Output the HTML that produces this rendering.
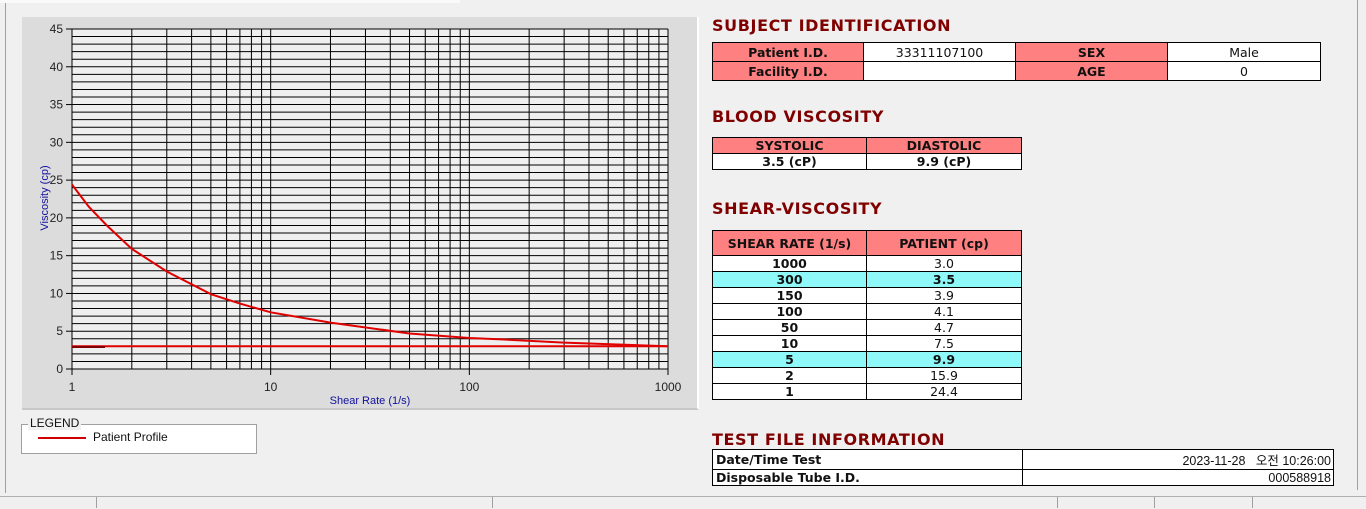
<!DOCTYPE html>
<html><head><meta charset="utf-8"><style>
body{margin:0;width:1366px;height:508px;background:#f0f0f0;position:relative;overflow:hidden;font-family:"Liberation Sans",sans-serif}
.abs{position:absolute}
h2{position:absolute;margin:0;font:bold 16px "DejaVu Sans","Liberation Sans",sans-serif;color:#800000;letter-spacing:0.6px}
table{position:absolute;border-collapse:collapse;font:12.5px "DejaVu Sans","Liberation Sans",sans-serif;table-layout:fixed}
td{border:1px solid #000;padding:0;text-align:center;background:#fff;color:#111;white-space:nowrap;overflow:hidden}
td.h{background:#ff8080;font-weight:bold}
tr.c td{background:#8ff8f8;font-weight:bold}
.b{font-weight:bold}
</style></head><body>
<div class="abs" style="left:0;top:0;width:460px;height:3px;background:#fafafa"></div>
<div class="abs" style="left:5px;top:3px;width:1px;height:490px;background:#a0a0a0"></div>
<div class="abs" style="left:22px;top:17px;width:675px;height:391px;background:#dcdcdc;border-right:2px solid #fff;border-bottom:2px solid #c8c8c8"></div>
<svg class="abs" style="left:0;top:0" width="700" height="420" font-family="Liberation Sans, sans-serif">
<rect x="72" y="29" width="596" height="340" fill="#efefef"/>
<g stroke="#000" stroke-width="1" id="g"></g>
<g id="lab" font-size="12" fill="#222"></g>
<text x="370" y="404" font-size="11" fill="#1010a0" text-anchor="middle">Shear Rate (1/s)</text>
<text transform="translate(48,198) rotate(-90)" font-size="11" fill="#1010a0" text-anchor="middle">Viscosity (cp)</text>
<polyline fill="none" stroke="#e00000" stroke-width="2" points="72,184.6 89,207 107,225.6 131.8,248.9 166.8,271.5 210.9,294.2 239.9,303.6 270.7,312.3 330.5,322.6 409.5,333.5 469.3,338 504.3,339.5 564.1,342.6 668,346.3"/>
<line x1="72" y1="346.3" x2="668" y2="346.3" stroke="#e00000" stroke-width="2"/>
<line x1="72" y1="347" x2="105" y2="347" stroke="#800000" stroke-width="2"/>
</svg>
<script>
(function(){var g=document.getElementById('g'),l=document.getElementById('lab'),s='';
for(var v=0;v<=45;v++){var y=369-v*340/45;s+='<line x1="72" x2="668" y1="'+y+'" y2="'+y+'"/>';}
for(var d=0;d<3;d++)for(var k=1;k<=10;k++){if(k==10&&d<2)continue;var x=72+198.67*(d+Math.log10(k));s+='<line y1="29" y2="369" x1="'+x+'" x2="'+x+'"/>';}
var t='';for(var v=0;v<=45;v+=5){var y=369-v*340/45;s+='<line x1="66" x2="72" y1="'+y+'" y2="'+y+'"/>';t+='<text x="63" y="'+(y+4)+'" text-anchor="end">'+v+'</text>';}
[1,10,100,1000].forEach(function(n,i){var x=72+198.67*i;s+='<line y1="369" y2="375" x1="'+x+'" x2="'+x+'"/>';t+='<text x="'+x+'" y="391" text-anchor="middle">'+n+'</text>';});
g.innerHTML=s;l.innerHTML=t;})();
</script>
<div class="abs" style="left:21px;top:424px;width:234px;height:28px;background:#fff;border:1px solid #a0a0a0"></div>
<div class="abs" style="left:28px;top:416px;font-size:12px;background:#f0f0f0;padding:0 2px;color:#111">LEGEND</div>
<div class="abs" style="left:38px;top:437px;width:48px;height:2px;background:#d00000"></div>
<div class="abs" style="left:93px;top:430px;font-size:12px;color:#111">Patient Profile</div>

<h2 style="left:712px;top:16px">SUBJECT IDENTIFICATION</h2>
<table style="left:712px;top:42px;width:608px"><colgroup><col style="width:151px"><col style="width:152px"><col style="width:152px"><col style="width:153px"></colgroup>
<tr style="height:19px"><td class="h">Patient I.D.</td><td>33311107100</td><td class="h">SEX</td><td>Male</td></tr>
<tr style="height:19px"><td class="h">Facility I.D.</td><td></td><td class="h">AGE</td><td>0</td></tr></table>

<h2 style="left:712px;top:107px">BLOOD VISCOSITY</h2>
<table style="left:712px;top:137px;width:309px" class="b"><colgroup><col style="width:154px"><col style="width:155px"></colgroup>
<tr style="height:16px"><td class="h">SYSTOLIC</td><td class="h">DIASTOLIC</td></tr>
<tr style="height:16px"><td class="b">3.5 (cP)</td><td class="b">9.9 (cP)</td></tr></table>

<h2 style="left:712px;top:199px">SHEAR-VISCOSITY</h2>
<table style="left:712px;top:230px;width:309px"><colgroup><col style="width:154px"><col style="width:155px"></colgroup>
<tr style="height:25px"><td class="h">SHEAR RATE (1/s)</td><td class="h">PATIENT (cp)</td></tr>
<tr style="height:16px"><td class="b">1000</td><td>3.0</td></tr>
<tr class="c" style="height:16px"><td>300</td><td>3.5</td></tr>
<tr style="height:16px"><td class="b">150</td><td>3.9</td></tr>
<tr style="height:16px"><td class="b">100</td><td>4.1</td></tr>
<tr style="height:16px"><td class="b">50</td><td>4.7</td></tr>
<tr style="height:16px"><td class="b">10</td><td>7.5</td></tr>
<tr class="c" style="height:16px"><td>5</td><td>9.9</td></tr>
<tr style="height:16px"><td class="b">2</td><td>15.9</td></tr>
<tr style="height:16px"><td class="b">1</td><td>24.4</td></tr></table>

<h2 style="left:712px;top:430px">TEST FILE INFORMATION</h2>
<table style="left:712px;top:449px;width:621px"><colgroup><col style="width:310px"><col style="width:311px"></colgroup>
<tr style="height:16px"><td class="b" style="text-align:left;padding-left:3px">Date/Time Test</td><td style="text-align:right;padding-right:2px;font-family:'Liberation Sans','Noto Sans CJK KR',sans-serif">2023-11-28 &nbsp;&nbsp;오전 10:26:00</td></tr>
<tr style="height:16px"><td class="b" style="text-align:left;padding-left:3px">Disposable Tube I.D.</td><td style="text-align:right;padding-right:2px;font-family:'Liberation Sans',sans-serif">000588918</td></tr></table>

<div class="abs" style="left:1357px;top:0;width:1px;height:490px;background:#a0a0a0"></div>
<div class="abs" style="left:0;top:496px;width:1366px;height:12px;background:#f0f0f0;border-top:1px solid #b0b0b0"></div>
<div class="abs" style="left:96px;top:497px;width:1px;height:11px;background:#a0a0a0"></div>
<div class="abs" style="left:492px;top:497px;width:1px;height:11px;background:#a0a0a0"></div>
<div class="abs" style="left:1057px;top:497px;width:1px;height:11px;background:#a0a0a0"></div>
<div class="abs" style="left:1154px;top:497px;width:1px;height:11px;background:#a0a0a0"></div>
<div class="abs" style="left:1252px;top:497px;width:1px;height:11px;background:#a0a0a0"></div>
</body></html>
